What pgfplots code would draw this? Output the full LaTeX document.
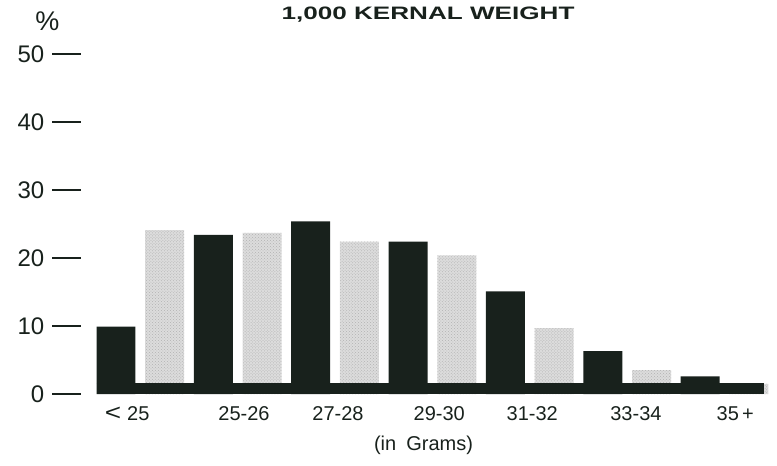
\documentclass[border=0pt]{standalone}
\usepackage{fontspec}
\setmainfont{Liberation Sans}
\usepackage{graphicx}
\usepackage{pgfplots}
\pgfplotsset{compat=1.18}
\usetikzlibrary{patterns}

\definecolor{ink}{HTML}{18211C}
\definecolor{dots}{HTML}{DCDCDC}
\newcommand\yt[1]{#1\hspace{8bp}\rule[7bp]{29bp}{2bp}}

\begin{document}
\begin{tikzpicture}
\path[use as bounding box] (0,0) rectangle (777bp,466bp);
\begin{axis}[
    at={(96.5bp,72bp)}, anchor=south west,
    scale only axis, width=667bp, height=340bp,
    xmin=-0.4, xmax=13.3, ymin=0, ymax=50,
    axis line style={draw=none},
    tick style={draw=none},
    clip=false,
    ytick={0,10,20,30,40,50},
    yticklabels={\yt{0},\yt{10},\yt{20},\yt{30},\yt{40},\yt{50}},
    yticklabel style={font=\fontsize{24bp}{28bp}\selectfont, text=ink, inner sep=0pt, xshift=-15bp},
    xtick={0.23,2.63,4.56,6.64,8.55,10.68,12.72},
    xticklabels={{\scalebox{1.4}[1.15]{<}\hspace{6bp}25},25-26,27-28,29-30,31-32,33-34,35\,+},
    xticklabel style={font=\fontsize{20bp}{24bp}\selectfont, text=ink, inner sep=0pt, yshift=-12bp},
    /pgf/number format/assume math mode=true,
]
% dark bars
\addplot[ybar, bar width=0.8, bar shift=0pt, fill=ink, draw=none] coordinates {
    (0,9.9) (2,23.4) (4,25.4) (6,22.4) (8,15.1) (10,6.3) (12,2.6)
};
% light dotted bars
\addplot[ybar, bar width=0.8, bar shift=0pt, fill=dots, draw=none,
    postaction={pattern=crosshatch dots, pattern color=black!30}] coordinates {
    (1,24.1) (3,23.7) (5,22.4) (7,20.4) (9,9.7) (11,3.5) (13,1.5)
};
% base band
\addplot[ink, line width=11bp, line cap=butt] coordinates {(-0.4,0.81) (13.3,0.81)};
\end{axis}
\node[anchor=base, text=ink, font=\bfseries\fontsize{18bp}{22bp}\selectfont] at (428bp,446.5bp) {\scalebox{1.45}[1]{1,000 KERNAL WEIGHT}};
\node[text=ink, font=\fontsize{27bp}{30bp}\selectfont] at (47.5bp,445bp) {\%};
\node[text=ink, font=\fontsize{20bp}{24bp}\selectfont] at (423.5bp,21bp) {(in\hspace{0.5em}Grams)};
\end{tikzpicture}
\end{document}
